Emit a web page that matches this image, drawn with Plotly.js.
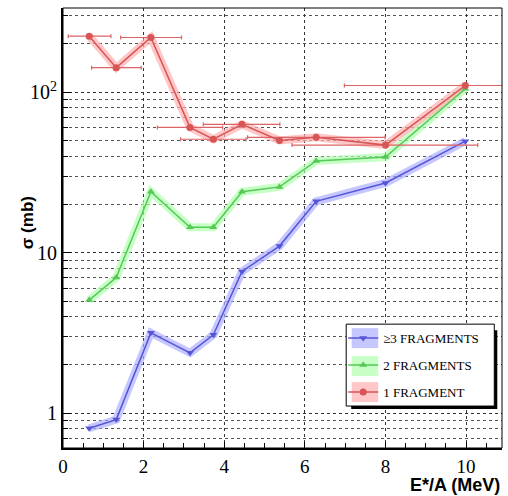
<!DOCTYPE html>
<html>
<head>
<meta charset="utf-8">
<script src="https://cdn.plot.ly/plotly-3.0.1.min.js"></script>
<style>html,body{margin:0;padding:0;background:#fff;}#plot{width:508px;height:496px;}</style>
</head>
<body>
<div id="plot"></div>
<script>
// Excitation energy per nucleon (MeV)
var energy = [0.65, 1.32, 2.18, 3.15, 3.73, 4.44, 5.37, 6.28, 8.0, 9.98];
// Cross sections (mb)
var sigmaOne   = [223, 142, 219, 60.3, 50.9, 63, 50, 52.3, 46.8, 110];
var sigmaTwo   = [5.07, 7.0, 24, 14.4, 14.4, 24, 25.7, 37.3, 39.4, 105];
var sigmaThree = [0.807, 0.914, 3.17, 2.38, 3.08, 7.64, 11.0, 20.9, 27.2, 49.5];
// Energy bin errors of the 1-fragment series
var errPlus  = [0.54, 0.62, 0.76, 0.81, 0.81, 0.94, 0, 1.71, 2.29, 3.0];
var errMinus = [0.52, 0.61, 0.75, 0.81, 0.81, 0.96, 0, 1.70, 2.32, 3.0];
var seriesNames = ['\u22653 FRAGMENTS', '2 FRAGMENTS', '1 FRAGMENT'];

var blueLine = 'rgb(85,85,215)', blueBand = 'rgba(175,175,255,0.7)';
var greenLine = 'rgb(85,200,85)', greenBand = 'rgba(175,255,175,0.7)';
var redLine = 'rgb(215,85,85)', redBand = 'rgba(255,175,175,0.7)';

function band(y, col) {
  return {x: energy, y: y, mode: 'lines', line: {color: col, width: 8}, showlegend: false, hoverinfo: 'skip'};
}
var traces = [
  band(sigmaThree, blueBand),
  band(sigmaTwo, greenBand),
  band(sigmaOne, redBand),
  {x: energy, y: sigmaThree, name: seriesNames[0], legendgroup: 'g3', mode: 'lines+markers',
   line: {color: blueLine, width: 1.5}, marker: {symbol: 'triangle-down', size: 7, color: blueLine}},
  {x: energy, y: sigmaTwo, name: seriesNames[1], legendgroup: 'g2', mode: 'lines+markers',
   line: {color: greenLine, width: 1.5}, marker: {symbol: 'triangle-up', size: 7, color: greenLine}},
  {x: energy, y: sigmaOne, name: seriesNames[2], legendgroup: 'g1', mode: 'lines+markers',
   line: {color: redLine, width: 1.5}, marker: {symbol: 'circle', size: 7, color: redLine},
   error_x: {type: 'data', symmetric: false, array: errPlus, arrayminus: errMinus,
             color: 'rgb(220,100,100)', thickness: 1.2, width: 2}}
];

var minorY = [0.7, 0.8, 0.9, 2, 3, 4, 5, 6, 7, 8, 9, 20, 30, 40, 50, 60, 70, 80, 90, 200, 300];

function px2x(p) { return (p - 63) / 438.7; }
function py2y(p) { return (448 - p) / 440.5; }
function rect(x0, y0, x1, y1, fill, lineCol, lw) {
  return {type: 'rect', xref: 'paper', yref: 'paper', layer: 'above',
    x0: px2x(x0), x1: px2x(x1), y0: py2y(y1), y1: py2y(y0),
    fillcolor: fill, line: {color: lineCol, width: lw}};
}

var layout = {
  width: 508, height: 496,
  margin: {l: 63, r: 6.3, t: 7.5, b: 48},
  paper_bgcolor: '#fff', plot_bgcolor: '#fff',
  font: {family: 'Liberation Serif', color: '#000'},
  showlegend: true,
  xaxis: {
    range: [0, 10.89], tickmode: 'linear', tick0: 0, dtick: 2,
    ticks: 'inside', ticklen: 6, tickwidth: 1, tickcolor: '#000',
    showline: true, linewidth: 2, linecolor: '#000',
    showgrid: true, gridcolor: '#333', griddash: 'dot', gridwidth: 1,
    zeroline: false,
    tickfont: {family: 'Liberation Serif', size: 19, color: '#000'},
    minor: {tickmode: 'linear', tick0: 0, dtick: 0.5, ticks: 'inside', ticklen: 5, tickcolor: '#000', showgrid: false}
  },
  yaxis: {
    type: 'log', range: [-0.216, 2.524],
    tickmode: 'array', tickvals: [1, 10, 100], ticktext: ['1', '10', '10<sup>2</sup>'],
    ticks: 'inside', ticklen: 8, tickwidth: 1, tickcolor: '#000',
    showline: true, linewidth: 2, linecolor: '#000',
    showgrid: true, gridcolor: '#333', griddash: 'dot', gridwidth: 1,
    zeroline: false,
    tickfont: {family: 'Liberation Serif', size: 20, color: '#000'},
    minor: {tickmode: 'array', tickvals: minorY, ticks: 'inside', ticklen: 5, tickcolor: '#000',
            showgrid: true, gridcolor: '#555', griddash: 'dot', gridwidth: 1}
  },
  legend: {
    x: px2x(343), y: py2y(323), xanchor: 'left', yanchor: 'top',
    bgcolor: 'rgba(0,0,0,0)', borderwidth: 0, tracegroupgap: 7,
    traceorder: 'grouped',
    font: {family: 'Liberation Serif', size: 13, color: '#000'}
  },
  shapes: [
    {type: 'rect', xref: 'paper', yref: 'paper', x0: 0, x1: 1, y0: 0, y1: 1, line: {color: '#000', width: 1}, layer: 'above'},
    rect(351, 330, 497, 409, '#000', '#000', 0),
    rect(346, 324, 494, 406, '#fff', '#000', 1),
    rect(351.5, 328, 378, 348, blueBand, 'rgba(0,0,0,0)', 0),
    rect(351.5, 356, 378, 376, greenBand, 'rgba(0,0,0,0)', 0),
    rect(351.5, 382, 378, 402, redBand, 'rgba(0,0,0,0)', 0)
  ],
  annotations: [
    {text: '<b>E*/A (MeV)</b>', xref: 'paper', yref: 'paper', x: 1, y: py2y(485), xanchor: 'right', yanchor: 'middle',
     showarrow: false, font: {family: 'Liberation Sans', size: 18, color: '#000'}},
    {text: '<b>\u03c3 (mb)</b>', xref: 'paper', yref: 'paper', x: px2x(27), y: py2y(222), xanchor: 'center', yanchor: 'middle',
     textangle: -90, showarrow: false, font: {family: 'Liberation Sans', size: 17, color: '#000'}}
  ]
};

Plotly.newPlot('plot', traces, layout, {displayModeBar: false, staticPlot: true});
</script>
</body>
</html>
